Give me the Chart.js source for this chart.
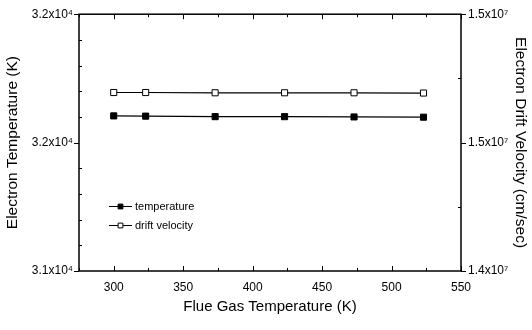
<!DOCTYPE html>
<html>
<head>
<meta charset="utf-8">
<script src="https://cdn.jsdelivr.net/npm/chart.js@4/dist/chart.umd.min.js"></script>
<style>
    html, body { margin: 0; padding: 0; background: #fff; }
    #wrap { width: 532px; height: 330px; }
</style>
</head>
<body>
<div id="wrap"><canvas id="tempChart" width="532" height="330"></canvas></div>
<script>
// flue gas temperature (K) and the two measured series
const flueGasTemp = [300, 323, 373, 423, 473, 523];
const electronTemp = [31604, 31603, 31601, 31601, 31600, 31599];
const driftVelocity = [14695000, 14695000, 14694000, 14694000, 14694000, 14693000];

// axis ticks and their printed labels
const xTicks = [300, 350, 400, 450, 500, 550];
const leftTicks = [31000, 31500, 32000];
const leftTickLabels = ['3.1x10\u2074', '3.2x10\u2074', '3.2x10\u2074'];
const rightTicks = [14000000, 14500000, 15000000];
const rightTickLabels = ['1.4x10\u2077', '1.5x10\u2077', '1.5x10\u2077'];

const FONT = '"Liberation Sans", Arial, sans-serif';

function fixTicks(values) {
    return scale => { scale.ticks = values.map(v => ({ value: v })); };
}

// frame around the plot plus major/minor tick marks
const frameTicks = {
    id: 'frameTicks',
    afterDraw(chart) {
        const { ctx, chartArea: a, scales } = chart;
        ctx.save();
        ctx.strokeStyle = '#000';
        ctx.lineWidth = 1.5;
        ctx.strokeRect(a.left, a.top, a.right - a.left, a.bottom - a.top);
        ctx.lineWidth = 1;
        ctx.beginPath();
        // x: ticks inward on bottom and top
        for (let v = 275; v <= 550; v += 25) {
            const px = Math.round(scales.x.getPixelForValue(v)) + 0.5;
            const len = v % 50 === 0 ? 5 : 3;
            ctx.moveTo(px, a.bottom); ctx.lineTo(px, a.bottom - len);
            ctx.moveTo(px, a.top); ctx.lineTo(px, a.top + len);
        }
        // left: major outward, minor inward
        for (let v = 31000; v <= 32000; v += 100) {
            const py = Math.round(scales.y.getPixelForValue(v)) + 0.5;
            if (v % 500 === 0) { ctx.moveTo(a.left, py); ctx.lineTo(a.left - 5, py); }
            else { ctx.moveTo(a.left, py); ctx.lineTo(a.left + 3, py); }
        }
        // right: major outward, minor inward
        for (let v = 14000000; v <= 15000000; v += 250000) {
            const py = Math.round(scales.y2.getPixelForValue(v)) + 0.5;
            if (v % 500000 === 0) { ctx.moveTo(a.right, py); ctx.lineTo(a.right + 5, py); }
            else { ctx.moveTo(a.right, py); ctx.lineTo(a.right - 3, py); }
        }
        ctx.stroke();
        ctx.restore();
    }
};

// legend drawn inside the plot, lower left
const innerLegend = {
    id: 'innerLegend',
    afterDatasetsDraw(chart) {
        const { ctx } = chart;
        const x0 = 109;
        const rows = [206, 225];
        ctx.save();
        chart.data.datasets.forEach((ds, i) => {
            const y = rows[i];
            ctx.strokeStyle = '#000';
            ctx.lineWidth = 1;
            ctx.beginPath();
            ctx.moveTo(x0, y + 0.5); ctx.lineTo(x0 + 23, y + 0.5);
            ctx.stroke();
            ctx.fillStyle = ds.pointBackgroundColor;
            ctx.strokeStyle = ds.pointBorderColor;
            Chart.helpers.drawPoint(ctx, {
                pointStyle: 'rect', radius: 3.4, borderWidth: 1
            }, x0 + 11.5, y + 0.5);
            ctx.fillStyle = '#000';
            ctx.font = '11px ' + FONT;
            ctx.textBaseline = 'middle';
            ctx.fillText(ds.label, x0 + 26, y + 1);
        });
        ctx.restore();
    }
};

new Chart(document.getElementById('tempChart'), {
    type: 'line',
    data: {
        datasets: [
            {
                label: 'temperature',
                data: flueGasTemp.map((x, i) => ({ x, y: electronTemp[i] })),
                yAxisID: 'y',
                borderColor: '#000',
                borderWidth: 1.2,
                pointStyle: 'rect',
                pointRadius: 4.3,
                pointBackgroundColor: '#000',
                pointBorderColor: '#000',
                pointBorderWidth: 1
            },
            {
                label: 'drift velocity',
                data: flueGasTemp.map((x, i) => ({ x, y: driftVelocity[i] })),
                yAxisID: 'y2',
                borderColor: '#000',
                borderWidth: 1.2,
                pointStyle: 'rect',
                pointRadius: 4.3,
                pointBackgroundColor: '#fff',
                pointBorderColor: '#000',
                pointBorderWidth: 1
            }
        ]
    },
    options: {
        responsive: false,
        animation: false,
        layout: { padding: { top: 12, left: 0, right: 0, bottom: 0 } },
        plugins: { legend: { display: false }, tooltip: { enabled: false } },
        scales: {
            x: {
                type: 'linear',
                min: 275,
                max: 550,
                afterBuildTicks: fixTicks(xTicks),
                afterFit: s => { s.height = 59; },
                grid: { display: false, drawTicks: false },
                border: { display: false },
                ticks: { color: '#000', font: { family: FONT, size: 12 }, padding: 9, maxRotation: 0 },
                title: {
                    display: true, text: 'Flue Gas Temperature (K)', color: '#000',
                    font: { family: FONT, size: 15 }, padding: { top: 0, bottom: 14 }
                }
            },
            y: {
                position: 'left',
                min: 31000,
                max: 32000,
                afterBuildTicks: fixTicks(leftTicks),
                afterFit: s => { s.width = 79; },
                grid: { display: false, drawTicks: false },
                border: { display: false },
                ticks: {
                    color: '#000', font: { family: FONT, size: 12 }, padding: 6,
                    callback: (v, i) => leftTickLabels[i]
                },
                title: {
                    display: true, text: 'Electron Temperature (K)', color: '#000',
                    font: { family: FONT, size: 15.5 }, padding: { top: 3, bottom: 0 }
                }
            },
            y2: {
                position: 'right',
                min: 14000000,
                max: 15000000,
                afterBuildTicks: fixTicks(rightTicks),
                afterFit: s => { s.width = 71; },
                grid: { display: false, drawTicks: false },
                border: { display: false },
                ticks: {
                    color: '#000', font: { family: FONT, size: 12 }, padding: 7,
                    callback: (v, i) => rightTickLabels[i]
                },
                title: {
                    display: true, text: 'Electron Drift Velocity (cm/sec)', color: '#000',
                    font: { family: FONT, size: 15.5 }, padding: { top: 2, bottom: 0 }
                }
            }
        }
    },
    plugins: [frameTicks, innerLegend]
});
</script>
</body>
</html>
